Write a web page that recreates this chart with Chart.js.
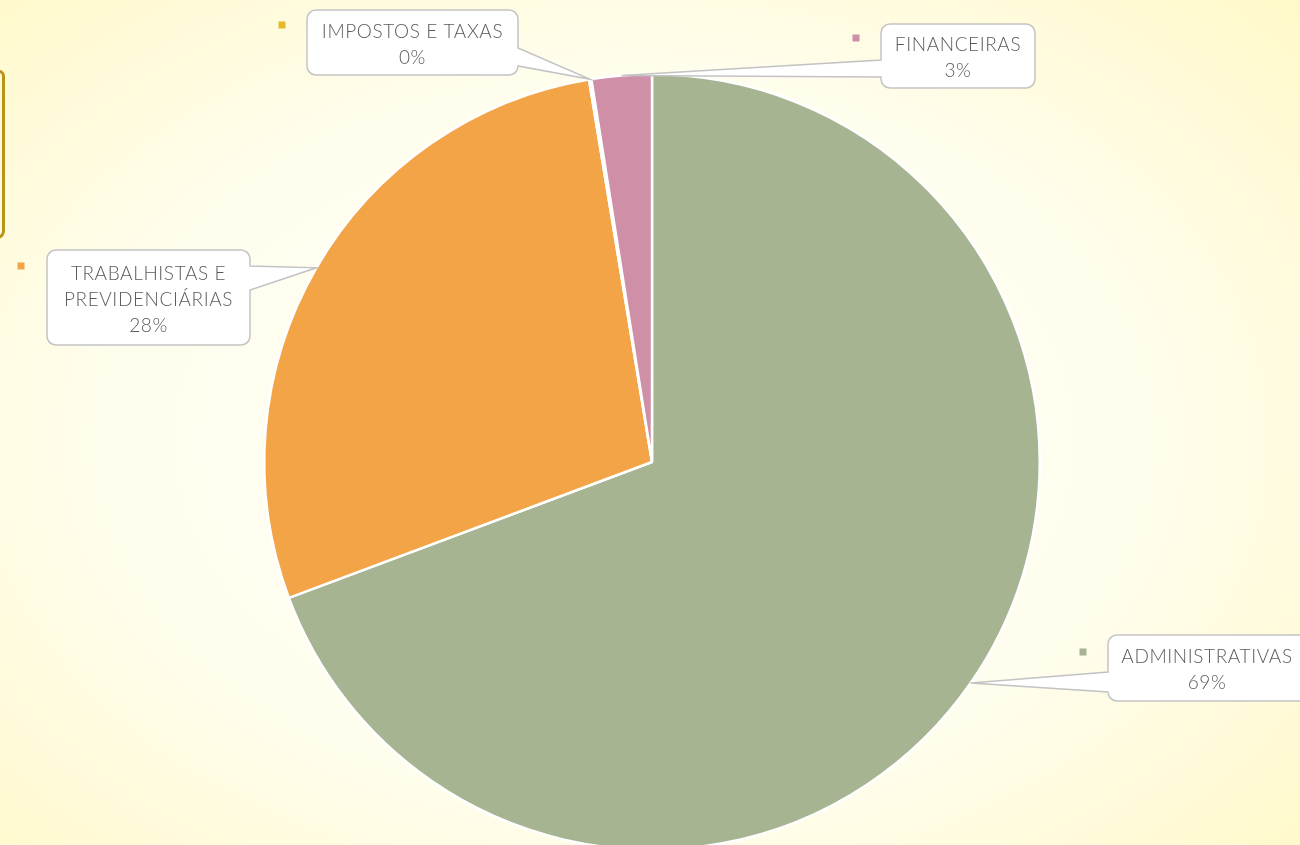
<!DOCTYPE html>
<html lang="pt">
<head>
    <meta charset="UTF-8">
    <title>Despesas</title>
    <style>
        html, body {
            margin: 0;
            padding: 0;
            width: 1300px;
            height: 845px;
            overflow: hidden;
            font-family: Lato, sans-serif;
            background: radial-gradient(ellipse 75% 80% at 48% 52%, #fffffa 0%, #fffdec 55%, #fff8c4 100%);
        }

        #frame {
            position: absolute;
            left: -12px;
            top: 70px;
            width: 11px;
            height: 163px;
            border: 3px solid #b8951a;
            border-radius: 0 6px 8px 0;
        }

        #chart-box {
            position: absolute;
            left: 0;
            top: 0;
            width: 1300px;
            height: 924px;
        }
    </style>
    <script src="https://cdn.jsdelivr.net/npm/chart.js"></script>
</head>
<body>
    <div id="frame"></div>
    <div id="chart-box"><canvas id="pieChart"></canvas></div>

    <script>
        // dados
        const categorias = ['ADMINISTRATIVAS', 'TRABALHISTAS E PREVIDENCIÁRIAS', 'IMPOSTOS E TAXAS', 'FINANCEIRAS'];
        const valores = [69.3, 28.1, 0.1, 2.5];
        const cores = ['#a6b492', '#f2a446', '#e6b928', '#cf90a7'];

        // caixas dos rótulos (linhas de texto, posição, lado da ponta)
        const rotulos = [
            { linhas: ['ADMINISTRATIVAS'], x: 1108, y: 635, w: 200, h: 66, lado: 'left', t1: 672, t2: 692, mx: 1083, my: 652 },
            { linhas: ['TRABALHISTAS E', 'PREVIDENCIÁRIAS'], x: 47, y: 250, w: 203, h: 95, lado: 'right', t1: 266, t2: 290, mx: 21, my: 266 },
            { linhas: ['IMPOSTOS E TAXAS'], x: 307, y: 10, w: 211, h: 65, lado: 'right', t1: 48, t2: 66, mx: 282, my: 25 },
            { linhas: ['FINANCEIRAS'], x: 881, y: 24, w: 154, h: 64, lado: 'left', t1: 60, t2: 77, mx: 856, my: 38 }
        ];

        function caixa(ctx, b, ax, ay) {
            const r = 9, x = b.x, y = b.y, w = b.w, h = b.h;
            ctx.beginPath();
            ctx.moveTo(x + r, y);
            ctx.lineTo(x + w - r, y);
            ctx.arcTo(x + w, y, x + w, y + r, r);
            if (b.lado === 'right') {
                ctx.lineTo(x + w, b.t1);
                ctx.lineTo(ax, ay);
                ctx.lineTo(x + w, b.t2);
            }
            ctx.lineTo(x + w, y + h - r);
            ctx.arcTo(x + w, y + h, x + w - r, y + h, r);
            ctx.lineTo(x + r, y + h);
            ctx.arcTo(x, y + h, x, y + h - r, r);
            if (b.lado === 'left') {
                ctx.lineTo(x, b.t2);
                ctx.lineTo(ax, ay);
                ctx.lineTo(x, b.t1);
            }
            ctx.lineTo(x, y + r);
            ctx.arcTo(x, y, x + r, y, r);
            ctx.closePath();
            ctx.fillStyle = '#ffffff';
            ctx.fill();
            ctx.lineWidth = 1.5;
            ctx.strokeStyle = '#c3c3c3';
            ctx.stroke();
        }

        const rotulosPlugin = {
            id: 'rotulos',
            afterDatasetsDraw(chart) {
                const ctx = chart.ctx;
                const meta = chart.getDatasetMeta(0);
                const total = valores.reduce((a, b) => a + b, 0);
                ctx.save();
                meta.data.forEach((arc, i) => {
                    const b = rotulos[i];
                    const p = arc.getProps(['x', 'y', 'startAngle', 'endAngle', 'outerRadius'], true);
                    const ang = (p.startAngle + p.endAngle) / 2;
                    const ax = p.x + Math.cos(ang) * p.outerRadius;
                    const ay = p.y + Math.sin(ang) * p.outerRadius;
                    caixa(ctx, b, ax, ay);

                    // marcador da legenda
                    ctx.fillStyle = cores[i];
                    ctx.fillRect(b.mx - 3.5, b.my - 3.5, 7, 7);

                    const texto = b.linhas.concat([Math.round(valores[i] / total * 100) + '%']);
                    ctx.fillStyle = '#5a5a5a';
                    ctx.font = '300 19px Lato';
                    ctx.letterSpacing = '0.6px';
                    ctx.textAlign = 'center';
                    ctx.textBaseline = 'middle';
                    const cx = b.x + (i === 0 ? 99 : b.w / 2);
                    const y0 = b.y + b.h / 2 - (texto.length - 1) * 13 + 2;
                    texto.forEach((t, k) => ctx.fillText(t, cx, y0 + k * 26));
                });
                ctx.restore();
            }
        };

        new Chart(document.getElementById('pieChart'), {
            type: 'pie',
            data: {
                labels: categorias,
                datasets: [{
                    data: valores,
                    backgroundColor: cores,
                    borderColor: '#ffffff',
                    borderWidth: 2.5
                }]
            },
            options: {
                responsive: true,
                maintainAspectRatio: false,
                animation: false,
                layout: { padding: { left: 263, right: 259, top: 0, bottom: 0 } },
                plugins: {
                    legend: { display: false },
                    tooltip: { enabled: false }
                }
            },
            plugins: [rotulosPlugin]
        });
    </script>
</body>
</html>
